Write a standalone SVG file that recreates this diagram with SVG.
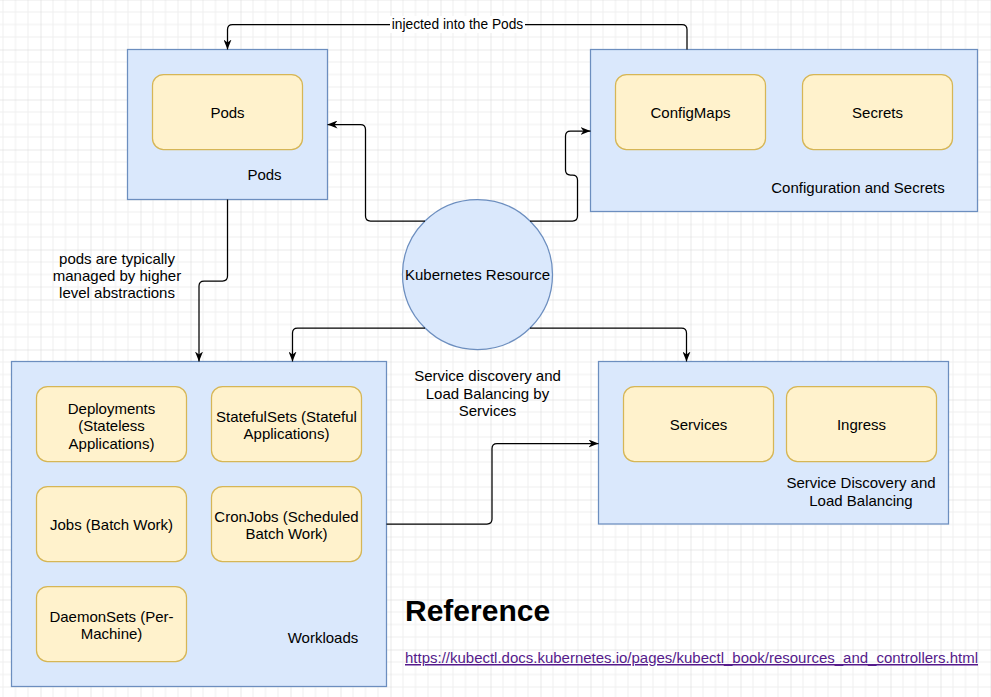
<svg xmlns="http://www.w3.org/2000/svg" width="991" height="697" viewBox="0 0 991 697">
  <defs>
    <pattern id="grid" x="40.5" y="49.5" width="50" height="50" patternUnits="userSpaceOnUse">
      <path d="M12.5,0 V50 M25,0 V50 M37.5,0 V50 M0,12.5 H50 M0,25 H50 M0,37.5 H50" stroke="#efefef" stroke-width="1" fill="none"/>
      <path d="M0,0 V50 M0,0 H50" stroke="#d3d3d3" stroke-width="1" fill="none"/>
    </pattern>
    <marker id="arrow" viewBox="0 0 10 8" refX="10" refY="4" markerWidth="10" markerHeight="8" markerUnits="userSpaceOnUse" orient="auto">
      <path d="M0,0 L10,4 L0,8 L3,4 Z" fill="#000"/>
    </marker>
  </defs>
  <style>
    .container { fill: #dae8fc; stroke: #6c8ebf; stroke-width: 1.25; }
    .item { fill: #fff2cc; stroke: #d6b656; stroke-width: 1.25; }
    .t { font-family: "Liberation Sans", Arial, sans-serif; font-size: 15px; fill: #000; text-anchor: middle; }
    .lbl { font-family: "Liberation Sans", Arial, sans-serif; font-size: 13.75px; fill: #000; text-anchor: middle; }
    .edge { fill: none; stroke: #000; stroke-width: 1.25; }
  </style>
  <rect width="991" height="697" fill="#ffffff"/>
  <rect width="991" height="697" fill="url(#grid)"/>

  <g id="pods-group">
    <rect class="container" x="127.5" y="49.5" width="200" height="150"/>
    <text class="t" x="264.5" y="180">Pods</text>
  </g>
  <g id="pods">
    <rect class="item" x="152.5" y="74.5" width="150" height="75" rx="11" ry="11"/>
    <text class="t" x="227.5" y="118">Pods</text>
  </g>

  <g id="config-group">
    <rect class="container" x="590.5" y="49.5" width="387" height="162"/>
    <text class="t" x="858" y="193">Configuration and Secrets</text>
  </g>
  <g id="configmaps">
    <rect class="item" x="615.5" y="74.5" width="150" height="75" rx="11" ry="11"/>
    <text class="t" x="690.5" y="118">ConfigMaps</text>
  </g>
  <g id="secrets">
    <rect class="item" x="802.5" y="74.5" width="150" height="75" rx="11" ry="11"/>
    <text class="t" x="877.5" y="118">Secrets</text>
  </g>

  <g id="kubernetes-resource">
    <circle cx="477.5" cy="274.5" r="75" fill="#dae8fc" stroke="#6c8ebf" stroke-width="1.25"/>
    <text class="t" x="477.5" y="280">Kubernetes Resource</text>
  </g>

  <g id="workloads-group">
    <rect class="container" x="11.5" y="361.5" width="375" height="325"/>
    <text class="t" x="323" y="643">Workloads</text>
  </g>
  <g id="deployments">
    <rect class="item" x="36.5" y="386.5" width="150" height="75" rx="11" ry="11"/>
    <text class="t" x="111.5" y="413.5">Deployments</text>
    <text class="t" x="111.5" y="431">(Stateless</text>
    <text class="t" x="111.5" y="448.5">Applications)</text>
  </g>
  <g id="statefulsets">
    <rect class="item" x="211.5" y="386.5" width="150" height="75" rx="11" ry="11"/>
    <text class="t" x="286.5" y="421.5">StatefulSets (Stateful</text>
    <text class="t" x="286.5" y="439">Applications)</text>
  </g>
  <g id="jobs">
    <rect class="item" x="36.5" y="486.5" width="150" height="75" rx="11" ry="11"/>
    <text class="t" x="111.5" y="529.5">Jobs (Batch Work)</text>
  </g>
  <g id="cronjobs">
    <rect class="item" x="211.5" y="486.5" width="150" height="75" rx="11" ry="11"/>
    <text class="t" x="286.5" y="521.5">CronJobs (Scheduled</text>
    <text class="t" x="286.5" y="539">Batch Work)</text>
  </g>
  <g id="daemonsets">
    <rect class="item" x="36.5" y="586.5" width="150" height="75" rx="11" ry="11"/>
    <text class="t" x="111.5" y="621.5">DaemonSets (Per-</text>
    <text class="t" x="111.5" y="639">Machine)</text>
  </g>

  <g id="service-group">
    <rect class="container" x="598.5" y="361.5" width="350" height="162.5"/>
    <text class="t" x="861" y="488">Service Discovery and</text>
    <text class="t" x="861" y="505.5">Load Balancing</text>
  </g>
  <g id="services">
    <rect class="item" x="623.5" y="386.5" width="150" height="75" rx="11" ry="11"/>
    <text class="t" x="698.5" y="430">Services</text>
  </g>
  <g id="ingress">
    <rect class="item" x="786.5" y="386.5" width="150" height="75" rx="11" ry="11"/>
    <text class="t" x="861.5" y="430">Ingress</text>
  </g>

  <g id="connectors">
    <path class="edge" d="M687,49.5 V29.5 Q687,24.5 682,24.5 H232.5 Q227.5,24.5 227.5,29.5 V49.5" marker-end="url(#arrow)"/>
    <rect x="390" y="16" width="135" height="17" fill="#ffffff"/>
    <text class="lbl" x="457.5" y="29">injected into the Pods</text>

    <path class="edge" d="M425,221 H370.5 Q365.5,221 365.5,216 V129.5 Q365.5,124.5 360.5,124.5 H327.5" marker-end="url(#arrow)"/>
    <path class="edge" d="M530,221 H572.5 Q577.5,221 577.5,216 V180 Q577.5,175 572.5,175 H570.5 Q565.5,175 565.5,170 V136 Q565.5,131 570.5,131 H590.5" marker-end="url(#arrow)"/>
    <path class="edge" d="M425,328 H297.5 Q292.5,328 292.5,333 V361.5" marker-end="url(#arrow)"/>
    <path class="edge" d="M530,328 H681.5 Q686.5,328 686.5,333 V361.5" marker-end="url(#arrow)"/>
    <path class="edge" d="M227.5,199.5 V276 Q227.5,281 222.5,281 H204 Q199,281 199,286 V361.5" marker-end="url(#arrow)"/>
    <path class="edge" d="M386.5,524 H487 Q492,524 492,519 V448.5 Q492,443.5 497,443.5 H598.5" marker-end="url(#arrow)"/>

    <text class="t" x="117" y="263.5">pods are typically</text>
    <text class="t" x="117" y="281">managed by higher</text>
    <text class="t" x="117" y="298">level abstractions</text>

    <text class="t" x="487.5" y="381">Service discovery and</text>
    <text class="t" x="487.5" y="398.5">Load Balancing by</text>
    <text class="t" x="487.5" y="416">Services</text>
  </g>

  <text x="405" y="621" font-family="'Liberation Sans', Arial, sans-serif" font-size="30" font-weight="bold" fill="#000">Reference</text>
  <text x="405" y="663" font-family="'Liberation Sans', Arial, sans-serif" font-size="15" fill="#551a8b" text-decoration="underline" textLength="573" lengthAdjust="spacingAndGlyphs">https://kubectl.docs.kubernetes.io/pages/kubectl_book/resources_and_controllers.html</text>
</svg>
